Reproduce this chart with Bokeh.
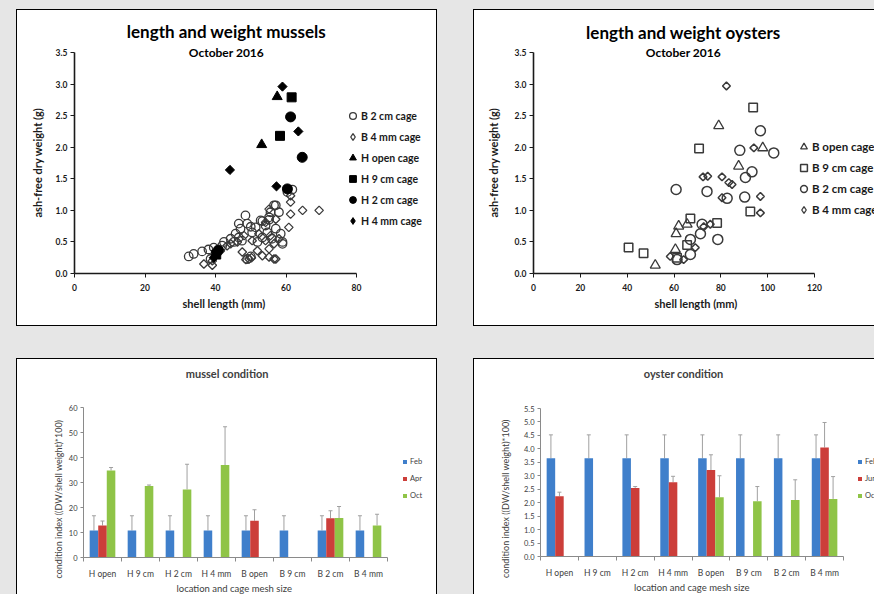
import numpy as np
from bokeh.plotting import figure
from bokeh.models import (ColumnDataSource, Range1d, FixedTicker, Label, Legend, LegendItem,
                          Whisker, TeeHead, Spacer, Row, Column, NumeralTickFormatter, Title)
from bokeh.embed import file_html
from bokeh.resources import INLINE

# ---------------- data ----------------
# mussels, length (mm) vs ash-free dry weight (g)
mus_b2cm_x = [32.4, 33.8, 36.2, 39.5, 42.4, 44.3, 45.7, 47.1, 48.5, 49.0, 50.4, 51.4, 52.8, 54.2, 55.2,
              55.6, 56.6, 58.0, 57.1, 58.5, 59.0, 53.3, 51.9, 49.0, 50.0, 45.2, 46.6, 41.9, 38.6, 54.7,
              60.4, 61.8, 38.0, 47.5, 56.0, 46.6, 50.0, 53.3, 55.2, 57.1, 59.0]
mus_b2cm_y = [0.27, 0.31, 0.35, 0.41, 0.50, 0.55, 0.63, 0.71, 0.92, 0.79, 0.65, 0.73, 0.84, 0.76, 0.89,
              0.97, 1.08, 0.97, 0.71, 0.63, 0.50, 0.57, 0.50, 0.23, 0.27, 0.50, 0.57, 0.44, 0.23, 0.65,
              1.29, 1.33, 0.38, 0.52, 0.55, 0.79, 0.74, 0.83, 0.85, 1.08, 0.47]
mus_b4mm_x = [61.3, 61.3, 64.7, 69.4, 60.8, 61.3, 57.1, 55.2, 53.3, 36.7, 39.1, 39.1, 40.5, 43.3, 48.1,
              50.4, 52.3, 54.2, 55.6, 56.6, 58.0, 55.2, 51.9, 47.6, 49.5, 46.2, 41.4, 44.3, 55.2, 57.1,
              54.2, 48.6, 50.2, 56.6]
mus_b4mm_y = [1.13, 0.94, 1.00, 1.00, 0.73, 1.23, 0.23, 0.26, 0.28, 0.15, 0.13, 0.20, 0.31, 0.44, 0.60,
              0.52, 0.63, 0.52, 0.60, 0.47, 0.55, 0.39, 0.36, 0.34, 0.23, 0.50, 0.36, 0.47, 1.02, 0.86,
              0.81, 0.22, 0.25, 0.23]
mus_hopen_x = [57.5, 53.1]
mus_hopen_y = [2.80, 2.04]
mus_h9cm_x = [61.6, 58.3, 40.2]
mus_h9cm_y = [2.79, 2.18, 0.30]
mus_h2cm_x = [61.3, 64.6, 60.4, 40.8]
mus_h2cm_y = [2.48, 1.84, 1.34, 0.37]
mus_h4mm_x = [59.0, 63.5, 44.1, 57.3, 39.5]
mus_h4mm_y = [2.96, 2.25, 1.64, 1.38, 0.25]

# oysters
oys_bopen_x = [79.1, 87.6, 97.9, 52.0, 60.9, 62.0, 65.6, 60.6]
oys_bopen_y = [2.34, 1.70, 1.99, 0.13, 0.63, 0.75, 0.78, 0.38]
oys_b9cm_x = [93.8, 70.7, 92.6, 67.0, 78.4, 40.6, 47.0, 65.6, 61.3]
oys_b9cm_y = [2.63, 1.98, 0.98, 0.87, 0.80, 0.41, 0.32, 0.45, 0.25]
oys_b2cm_x = [96.9, 88.1, 102.6, 93.3, 90.5, 60.9, 74.1, 82.7, 90.2, 71.3, 78.7, 67.0, 67.0, 61.3, 72.0]
oys_b2cm_y = [2.26, 1.95, 1.91, 1.61, 1.52, 1.33, 1.30, 1.19, 1.21, 0.63, 0.54, 0.54, 0.30, 0.22, 0.78]
oys_b4mm_x = [82.4, 94.1, 72.4, 74.4, 80.5, 83.4, 84.8, 80.5, 96.9, 96.9, 75.5, 72.7, 58.4, 69.1, 64.1]
oys_b4mm_y = [2.97, 1.99, 1.53, 1.54, 1.53, 1.44, 1.41, 1.20, 1.22, 0.96, 0.78, 0.74, 0.27, 0.41, 0.22]

# condition index bars
sites = ["H open", "H 9 cm", "H 2 cm", "H 4 mm", "B open", "B 9 cm", "B 2 cm", "B 4 mm"]
mus_feb = [10.8, 10.8, 10.8, 10.8, 10.8, 10.8, 10.8, 10.8]
mus_feb_err = [5.9, 5.9, 5.9, 5.9, 5.9, 5.9, 5.9, 5.9]
mus_apr = [12.8, None, None, None, 14.7, None, 15.7, None]
mus_apr_err = [1.8, None, None, None, 4.4, None, 3.0, None]
mus_oct = [34.8, 28.6, 27.2, 37.0, None, None, 15.8, 12.8]
mus_oct_err = [1.2, 0.4, 10.1, 15.3, None, None, 4.6, 4.5]

oys_feb = [3.65, 3.65, 3.65, 3.65, 3.65, 3.65, 3.65, 3.65]
oys_feb_err = [0.87, 0.87, 0.87, 0.87, 0.87, 0.87, 0.87, 0.87]
oys_jun = [2.24, None, 2.55, 2.76, 3.21, None, None, 4.05]
oys_jun_err = [0.15, None, 0.05, 0.22, 0.57, None, None, 0.93]
oys_oct = [None, None, None, None, 2.20, 2.05, 2.10, 2.14]
oys_oct_err = [None, None, None, None, 0.80, 0.55, 0.75, 0.83]

mus_months = ["Feb", "Apr", "Oct"]
oys_months = ["Feb", "Jun", "Oct"]
BAR_COLORS = ["#3f7fcb", "#cc3e3a", "#8fc447"]

FONT = "Lato"
BG = "#e6e6e6"
OPEN = "#3a3a3a"
TXT = "#1a1a1a"
GTXT = "#404040"
NAN = float("nan")


def base_fig(w, h, ml, mb, x_end, x_px, y_end, y_px):
    """Frame spans from the axes to the top/right edge of the panel; the data scale is
    x_end units per x_px pixels and y_end units per y_px pixels; axes get bounds."""
    fw, fh = w - ml, h - mb
    xr = Range1d(0, x_end * fw / x_px)
    yr = Range1d(0, y_end * fh / y_px)
    p = figure(width=w, height=h, x_range=xr, y_range=yr, output_backend="svg",
               toolbar_location=None, min_border_left=ml, min_border_right=0,
               min_border_top=0, min_border_bottom=mb)
    p.outline_line_color = None
    p.grid.visible = False
    p.background_fill_color = "white"
    p.border_fill_color = "white"
    p.xaxis.bounds = (0, x_end)
    p.yaxis.bounds = (0, y_end)
    return p


def label(p, x, y, text, size, style="bold", color="#000000"):
    p.add_layout(Label(x=x, y=y, text=text, text_font=FONT, text_font_size=size,
                       text_font_style=style, text_color=color, text_align="center",
                       text_baseline="middle"))


def axis_title(p, text, side, offset, standoff, size, style, color):
    p.add_layout(Title(text=text, align="left", offset=offset, standoff=standoff,
                       vertical_align="middle", text_font=FONT, text_font_size=size,
                       text_font_style=style, text_color=color), side)


def style_scatter_axes(p, xticks, yticks):
    for ax in (p.xaxis[0], p.yaxis[0]):
        ax.axis_line_color = TXT
        ax.axis_line_width = 1.6
        ax.major_tick_line_color = TXT
        ax.major_tick_out = 4
        ax.major_tick_in = 0
        ax.minor_tick_out = 0
        ax.minor_tick_in = 0
        ax.major_label_text_font = FONT
        ax.major_label_text_font_size = "8.5px"
        ax.major_label_text_font_style = "bold"
        ax.major_label_text_color = TXT
    p.xaxis.ticker = FixedTicker(ticks=xticks)
    p.yaxis.ticker = FixedTicker(ticks=yticks)
    p.yaxis.formatter = NumeralTickFormatter(format="0.0")
    p.xaxis.major_label_standoff = 6
    p.yaxis.major_label_standoff = 3


def scatter_legend(p, items, loc, size="10.5px"):
    lg = Legend(items=[LegendItem(label=t, renderers=[r]) for t, r in items], location=loc,
                orientation="vertical", glyph_width=17, glyph_height=17, label_height=17,
                spacing=4, padding=0, margin=0, border_line_color=None, background_fill_alpha=0,
                label_text_font=FONT, label_text_font_size=size, label_text_font_style="bold",
                label_text_color=TXT, label_standoff=0)
    p.add_layout(lg)


# ---------------- panel 1: mussels scatter ----------------
p1 = base_fig(419, 315, 57, 52, 80, 282, 3.5, 221)
style_scatter_axes(p1, [0, 20, 40, 60, 80], [0, 0.5, 1, 1.5, 2, 2.5, 3, 3.5])
axis_title(p1, "shell length (mm)", "below", 108, 5, "11px", "bold", TXT)
axis_title(p1, "ash-free dry weight (g)", "left", 56, 16, "11px", "bold", TXT)
r_b2 = p1.scatter(mus_b2cm_x, mus_b2cm_y, marker="circle", size=8.5, fill_color=None,
                  line_color=OPEN, line_width=1.3)
r_b4 = p1.scatter(mus_b4mm_x, mus_b4mm_y, marker="square", angle=np.pi / 4, size=6,
                  fill_color=None, line_color=OPEN, line_width=1.3)
r_ho = p1.scatter(mus_hopen_x, mus_hopen_y, marker="triangle", size=10, fill_color="black",
                  line_color="black")
r_h9 = p1.scatter(mus_h9cm_x, mus_h9cm_y, marker="square", size=9, fill_color="black",
                  line_color="black")
r_h2 = p1.scatter(mus_h2cm_x, mus_h2cm_y, marker="circle", size=10, fill_color="black",
                  line_color="black")
r_h4 = p1.scatter(mus_h4mm_x, mus_h4mm_y, marker="square", angle=np.pi / 4, size=6.5,
                  fill_color="black", line_color="black")
# legend swatches for the diamond series (the legend does not rotate markers); NaN -> not drawn
k_b4 = p1.scatter(x=[NAN], y=[NAN], marker="diamond", size=9, fill_color=None, line_color=OPEN,
                  line_width=1.3)
k_h4 = p1.scatter(x=[NAN], y=[NAN], marker="diamond", size=9, fill_color="black",
                  line_color="black")
scatter_legend(p1, [("B 2 cm cage", r_b2), ("B 4 mm cage", k_b4), ("H open cage", r_ho),
                    ("H 9 cm cage", r_h9), ("H 2 cm cage", r_h2), ("H 4 mm cage", k_h4)],
               (270, 44))
label(p1, 43.1, 3.84, "length and weight mussels", "17px")
label(p1, 43.1, 3.505, "October 2016", "12px")

# ---------------- panel 2: oysters scatter ----------------
p2 = base_fig(400, 315, 59, 52, 120, 281, 3.5, 221)
style_scatter_axes(p2, [0, 20, 40, 60, 80, 100, 120], [0, 0.5, 1, 1.5, 2, 2.5, 3, 3.5])
axis_title(p2, "shell length (mm)", "below", 121, 5, "11px", "bold", TXT)
axis_title(p2, "ash-free dry weight (g)", "left", 56, 22, "11px", "bold", TXT)
o_t = p2.scatter(oys_bopen_x, oys_bopen_y, marker="triangle", size=10, fill_color=None,
                 line_color=OPEN, line_width=1.3)
o_s = p2.scatter(oys_b9cm_x, oys_b9cm_y, marker="square", size=8.5, fill_color=None,
                 line_color=OPEN, line_width=1.5)
o_c = p2.scatter(oys_b2cm_x, oys_b2cm_y, marker="circle", size=10, fill_color=None,
                 line_color=OPEN, line_width=1.5)
o_d = p2.scatter(oys_b4mm_x, oys_b4mm_y, marker="square", angle=np.pi / 4, size=5.5,
                 fill_color=None, line_color=OPEN, line_width=1.5)
k_od = p2.scatter(x=[NAN], y=[NAN], marker="diamond", size=9, fill_color=None, line_color=OPEN,
                  line_width=1.3)
scatter_legend(p2, [("B open cage", o_t), ("B 9 cm cage", o_s), ("B 2 cm cage", o_c),
                    ("B 4 mm cage", k_od)], (262, 55), "11.5px")
label(p2, 64.0, 3.81, "length and weight oysters", "17px")
label(p2, 64.0, 3.505, "October 2016", "12px")


# ---------------- bar panels ----------------
def make_bars(w, h, mb, x_px, y_end, y_px, yticks, fmt, vals, errs, months, legend_loc,
              xoff, xstand, yoff, ystand):
    n = len(sites)
    p = base_fig(w, h, 66, mb, n, x_px, y_end, y_px)
    xa, ya = p.xaxis[0], p.yaxis[0]
    for ax in (xa, ya):
        ax.axis_line_color = "#8a8a8a"
        ax.axis_line_width = 1
        ax.major_label_text_font = FONT
        ax.major_label_text_color = GTXT
    xa.major_label_text_font_size = "8.5px"
    ya.major_label_text_font_size = "7.5px"
    centers = [i + 0.5 for i in range(n)]
    p.xaxis.ticker = FixedTicker(ticks=centers, minor_ticks=list(range(n + 1)))
    p.xaxis.major_label_overrides = {c: s for c, s in zip(centers, sites)}
    xa.major_tick_out = 0
    xa.major_tick_in = 0
    xa.minor_tick_out = 4
    xa.minor_tick_in = 0
    xa.minor_tick_line_color = "#8a8a8a"
    xa.major_label_standoff = 7
    p.yaxis.ticker = FixedTicker(ticks=yticks)
    if fmt:
        p.yaxis.formatter = NumeralTickFormatter(format=fmt)
    ya.major_tick_out = 3
    ya.major_tick_in = 0
    ya.minor_tick_out = 0
    ya.major_tick_line_color = "#8a8a8a"
    ya.major_label_standoff = 3
    axis_title(p, "location and cage mesh size", "below", xoff, xstand, "9.5px", "normal", GTXT)
    axis_title(p, "condition index ((DW/shell weight)*100)", "left", yoff, ystand, "9px",
               "normal", GTXT)
    offsets = [-0.225, 0.0, 0.225]
    items = []
    for k, (v, e, m) in enumerate(zip(vals, errs, months)):
        xs = [i + 0.5 + offsets[k] for i, a in enumerate(v) if a is not None]
        tops = [a for a in v if a is not None]
        ups = [a + b for a, b in zip(v, e) if a is not None]
        src = ColumnDataSource(dict(x=xs, top=tops, upper=ups))
        r = p.vbar(x="x", top="top", width=0.225, source=src, fill_color=BAR_COLORS[k],
                   line_color=None)
        p.add_layout(Whisker(base="x", lower="top", upper="upper", source=src,
                             line_color="#a0a0a0", line_width=1, lower_head=None,
                             upper_head=TeeHead(size=4, line_color="#a0a0a0", line_width=1)))
        items.append(LegendItem(label=m, renderers=[r]))
    lg = Legend(items=items, location=legend_loc, orientation="vertical", glyph_width=5,
                glyph_height=5, label_height=9, spacing=8, padding=0, margin=0,
                border_line_color=None, background_fill_alpha=0, label_text_font=FONT,
                label_text_font_size="7.5px", label_text_color=GTXT, label_standoff=3)
    p.add_layout(lg)
    return p


p3 = make_bars(419, 235, 37, 304, 60, 150, [0, 10, 20, 30, 40, 50, 60], None,
               [mus_feb, mus_apr, mus_oct], [mus_feb_err, mus_apr_err, mus_oct_err], mus_months,
               (319, 57), 93, 0, -21, 1)
label(p3, 3.78, 73.6, "mussel condition", "11px", color=GTXT)

p4 = make_bars(400, 235, 38, 303, 5.5, 148, [i * 0.5 for i in range(12)], "0.0",
               [oys_feb, oys_jun, oys_oct], [oys_feb_err, oys_jun_err, oys_oct_err], oys_months,
               (317, 56), 93.5, 0, -21.5, 19)
label(p4, 3.78, 6.80, "oyster condition", "11px", color=GTXT)


# ---------------- layout ----------------
def framed(p, right=True, bottom=True):
    b = "1px solid #000000"
    st = {"border-left": b, "border-top": b, "background-color": "#ffffff"}
    if right:
        st["border-right"] = b
    if bottom:
        st["border-bottom"] = b
    return Column(children=[p], styles=st)


top_row = Row(children=[Spacer(width=16, height=317), framed(p1), Spacer(width=36, height=317),
                        framed(p2, right=False)])
bot_row = Row(children=[Spacer(width=16, height=236), framed(p3, bottom=False),
                        Spacer(width=36, height=236), framed(p4, right=False, bottom=False)])
root = Column(children=[Spacer(width=874, height=9), top_row, Spacer(width=874, height=32), bot_row],
              width=874, height=594, styles={"background-color": BG, "overflow": "hidden"})

open("out.html", "w").write(file_html(root, INLINE))
